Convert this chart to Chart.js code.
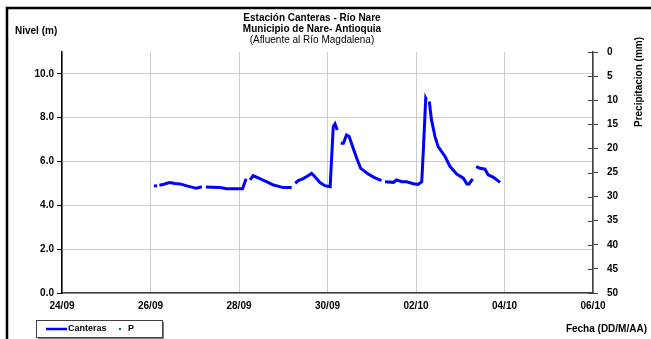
<!DOCTYPE html>
<html>
<head>
<meta charset="utf-8">
<script src="https://cdn.jsdelivr.net/npm/chart.js@4"></script>
<style>
  html, body { margin: 0; padding: 0; background: #fff; }
  #wrap { width: 651px; height: 339px; position: relative; }
</style>
</head>
<body>
<div id="wrap"><canvas id="nivelChart" width="651" height="339"></canvas></div>
<script>
// Dias desde 24/09 (0 = 24/09), null en nivel = corte de la serie
const fechaDias = [
  2.08, 2.15, 2.17, 2.20, 2.30, 2.37, 2.44, 2.55, 2.67, 2.82, 2.95, 3.04, 3.16, 3.20,
  3.25, 3.40, 3.57, 3.72, 3.90, 4.08, 4.16, 4.20,
  4.25, 4.32, 4.47, 4.62, 4.78, 5.00, 5.19, 5.23,
  5.27, 5.34, 5.45, 5.57, 5.64, 5.70, 5.83, 5.94, 6.06, 6.13, 6.17, 6.22, 6.26,
  6.30, 6.36, 6.43, 6.49, 6.58, 6.66, 6.75, 6.92, 7.05, 7.22, 7.26,
  7.30, 7.49, 7.56, 7.68, 7.79, 7.94, 8.05, 8.13, 8.17, 8.22, 8.24, 8.27,
  8.30, 8.35, 8.43, 8.50, 8.66, 8.77, 8.92, 9.07, 9.15, 9.20, 9.28, 9.32,
  9.36, 9.45, 9.56, 9.63, 9.75, 9.90
];
const nivelCanteras = [
  4.88, 4.89, null, 4.92, 4.96, 5.01, 5.04, 5.00, 4.98, 4.89, 4.82, 4.78, 4.85, null,
  4.84, 4.83, 4.81, 4.76, 4.76, 4.76, 5.22, null,
  5.16, 5.36, 5.22, 5.08, 4.93, 4.81, 4.81, null,
  5.01, 5.13, 5.22, 5.36, 5.46, 5.34, 5.04, 4.90, 4.85, 7.59, 7.72, 7.44, null,
  6.84, 6.84, 7.21, 7.14, 6.61, 6.15, 5.69, 5.43, 5.28, 5.13, null,
  5.08, 5.05, 5.16, 5.08, 5.08, 4.99, 4.96, 5.08, 6.68, 8.89, 8.81, null,
  8.74, 7.90, 7.14, 6.68, 6.22, 5.77, 5.43, 5.24, 4.98, 4.98, 5.21, null,
  5.77, 5.69, 5.65, 5.39, 5.28, 5.05
];
// Precipitacion: sin registros en el periodo
const precipitacion = [];

const tickFechas = ["24/09", "26/09", "28/09", "30/09", "02/10", "04/10", "06/10"];
const titulo = ["Estación Canteras - Río Nare", "Municipio de Nare- Antioquia", "(Afluente al Río Magdalena)"];

const FONT = "'Liberation Sans', Arial, sans-serif";

// Textos, marco, leyenda y marcas del eje derecho
const decoraciones = {
  id: "decoraciones",
  afterDraw(chart) {
    const ctx = chart.ctx;
    const area = chart.chartArea;
    ctx.save();

    // marco negro
    ctx.strokeStyle = "#000";
    ctx.lineWidth = 2.5;
    ctx.beginPath();
    ctx.moveTo(7, 345);
    ctx.lineTo(7, 8);
    ctx.lineTo(660, 8);
    ctx.stroke();

    // titulo
    ctx.fillStyle = "#000";
    ctx.textAlign = "center";
    ctx.textBaseline = "middle";
    ctx.font = "bold 10px " + FONT;
    ctx.fillText(titulo[0], 312, 18);
    ctx.fillText(titulo[1], 312, 29);
    ctx.font = "10px " + FONT;
    ctx.fillText(titulo[2], 312, 40);

    // etiquetas de ejes
    ctx.font = "bold 10px " + FONT;
    ctx.textAlign = "left";
    ctx.fillText("Nivel (m)", 15, 31);
    ctx.textAlign = "right";
    ctx.fillText("Fecha (DD/M/AA)", 647, 329);

    ctx.save();
    ctx.translate(639, 82);
    ctx.rotate(-Math.PI / 2);
    ctx.textAlign = "center";
    ctx.fillText("Precipitacion (mm)", 0, 0);
    ctx.restore();

    // marcas internas del eje derecho
    const y2 = chart.scales.y2;
    ctx.strokeStyle = "#404040";
    ctx.lineWidth = 1;
    y2.ticks.forEach(t => {
      const py = Math.round(y2.getPixelForValue(t.value)) + 0.5;
      ctx.beginPath();
      ctx.moveTo(area.right - 5, py);
      ctx.lineTo(area.right, py);
      ctx.stroke();
    });

    // leyenda
    const lx = 36, ly = 320, lw = 126, lh = 17;
    ctx.fillStyle = "#808080";
    ctx.fillRect(lx + 2, ly + 2, lw, lh);
    ctx.fillStyle = "#fff";
    ctx.fillRect(lx, ly, lw, lh);
    ctx.strokeStyle = "#404040";
    ctx.strokeRect(lx + 0.5, ly + 0.5, lw, lh);

    const ds = chart.data.datasets;
    const cy = ly + lh / 2 + 0.5;
    ctx.strokeStyle = ds[0].borderColor;
    ctx.lineWidth = 2.5;
    ctx.beginPath();
    ctx.moveTo(46, cy);
    ctx.lineTo(67, cy);
    ctx.stroke();
    ctx.fillStyle = "#000";
    ctx.textAlign = "left";
    ctx.font = "bold 9px " + FONT;
    ctx.fillText(ds[0].label, 68, cy);
    ctx.fillStyle = ds[1].backgroundColor;
    ctx.fillRect(119, cy - 1, 2, 2);
    ctx.fillStyle = "#000";
    ctx.fillText(ds[1].label, 128, cy);

    ctx.restore();
  }
};

const ctx = document.getElementById("nivelChart").getContext("2d");
new Chart(ctx, {
  type: "line",
  data: {
    datasets: [{
      label: "Canteras",
      data: fechaDias.map((d, i) => ({ x: d, y: nivelCanteras[i] })),
      borderColor: "#0000ff",
      borderWidth: 3,
      pointRadius: 0,
      tension: 0,
      spanGaps: false,
      yAxisID: "y"
    }, {
      label: "P",
      data: precipitacion,
      borderColor: "#008000",
      backgroundColor: "#008000",
      showLine: false,
      pointRadius: 1,
      yAxisID: "y2"
    }]
  },
  options: {
    responsive: false,
    animation: false,
    layout: { padding: { left: 0, right: 0, top: 52, bottom: 0 } },
    plugins: { legend: { display: false }, tooltip: { enabled: false } },
    scales: {
      x: {
        type: "linear",
        min: 0,
        max: 12,
        afterFit: s => { s.height = 46; },
        afterBuildTicks: s => { s.ticks = tickFechas.map((_, i) => ({ value: i * 2 })); },
        grid: { color: "#cccccc", drawTicks: false },
        border: { color: "#404040", width: 1.5 },
        ticks: {
          padding: 7,
          maxRotation: 0,
          font: { family: FONT, size: 10, weight: "bold" },
          color: "#000",
          callback: v => tickFechas[v / 2]
        }
      },
      y: {
        position: "left",
        min: 0,
        max: 11,
        afterFit: s => { s.width = 62; },
        ticks: {
          stepSize: 2,
          includeBounds: false,
          padding: 3,
          font: { family: FONT, size: 10, weight: "bold" },
          color: "#000",
          callback: v => v.toFixed(1)
        },
        grid: { color: "#cccccc", tickColor: "#000", tickLength: 5 },
        border: { color: "#000", width: 1.5 }
      },
      y2: {
        position: "right",
        min: 0,
        max: 50,
        reverse: true,
        afterFit: s => { s.width = 58; },
        ticks: {
          stepSize: 5,
          padding: 9,
          font: { family: FONT, size: 10, weight: "bold" },
          color: "#000"
        },
        grid: { drawOnChartArea: false, tickColor: "#404040", tickLength: 5 },
        border: { color: "#404040", width: 1.5 }
      }
    }
  },
  plugins: [decoraciones]
});
</script>
</body>
</html>
